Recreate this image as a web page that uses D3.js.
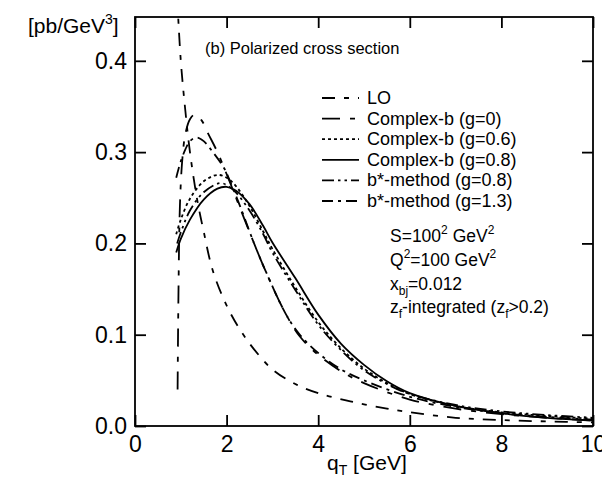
<!DOCTYPE html>
<html>
<head>
<meta charset="utf-8">
<script src="https://cdn.jsdelivr.net/npm/d3@7"></script>
<style>
  body { margin: 0; background: #fff; }
  svg text { font-family: "Liberation Sans", Arial, Helvetica, sans-serif; fill: #000; }
</style>
</head>
<body>
<div id="chart"></div>
<script>
// values, [qT, dsigma]
const lo       = [[0.92,0.47],[1.0,0.40],[1.1,0.345],[1.2,0.30],[1.35,0.25],[1.5,0.213],[1.7,0.170],[2.0,0.132],[2.3,0.105],[2.6,0.084],[3.0,0.062],[3.5,0.046],[4.0,0.036],[4.7,0.027],[5.5,0.019],[6.0,0.015],[7.0,0.009],[8.0,0.0065],[9.0,0.005],[10.0,0.004]];
const cbG0     = [[0.93,0.04],[0.95,0.15],[0.98,0.24],[1.03,0.29],[1.1,0.32],[1.2,0.336],[1.3,0.341],[1.45,0.335],[1.6,0.32],[1.8,0.30],[2.0,0.276],[2.3,0.238],[2.6,0.20],[2.9,0.164],[3.3,0.122],[3.6,0.098],[4.0,0.078],[4.5,0.060],[5.0,0.047],[6.0,0.029],[7.0,0.019],[8.0,0.013],[9.0,0.009],[10.0,0.006]];
const cbG06    = [[0.9,0.21],[1.0,0.226],[1.2,0.249],[1.5,0.268],[1.8,0.275],[2.0,0.272],[2.2,0.263],[2.5,0.241],[2.8,0.213],[3.0,0.194],[3.5,0.152],[4.0,0.114],[4.5,0.085],[5.0,0.063],[5.5,0.047],[6.0,0.035],[7.0,0.022],[8.0,0.015],[9.0,0.011],[10.0,0.008]];
const cbG08    = [[0.9,0.19],[1.0,0.205],[1.2,0.226],[1.5,0.248],[1.8,0.260],[2.0,0.262],[2.2,0.258],[2.5,0.243],[2.8,0.219],[3.0,0.201],[3.5,0.162],[4.0,0.122],[4.5,0.090],[5.0,0.067],[5.5,0.049],[6.0,0.036],[7.0,0.022],[8.0,0.014],[9.0,0.009],[10.0,0.006]];
const bsG08    = [[0.92,0.20],[1.0,0.212],[1.2,0.236],[1.5,0.256],[1.85,0.266],[2.0,0.264],[2.2,0.256],[2.5,0.236],[2.8,0.210],[3.0,0.190],[3.5,0.149],[4.0,0.111],[4.5,0.083],[5.0,0.061],[5.5,0.046],[6.0,0.035],[7.0,0.023],[8.0,0.016],[9.0,0.012],[10.0,0.009]];
const bsG13    = [[0.9,0.272],[1.0,0.29],[1.1,0.303],[1.2,0.312],[1.35,0.316],[1.5,0.312],[1.7,0.30],[1.95,0.282],[2.1,0.265],[2.3,0.240],[2.6,0.20],[2.85,0.17],[3.3,0.122],[3.6,0.100],[4.0,0.080],[4.5,0.062],[5.0,0.050],[6.0,0.032],[7.0,0.021],[8.0,0.014],[9.0,0.010],[10.0,0.007]];

const seriesNames = ['LO','Complex-b (g=0)','Complex-b (g=0.6)','Complex-b (g=0.8)','b*-method (g=0.8)','b*-method (g=1.3)'];
const xTicks = [0,2,4,6,8,10];
const yTicks = [0.0,0.1,0.2,0.3,0.4];

const width = 602, height = 477;
const plotL = 135, plotR = 593, plotT = 17, plotB = 426;

const svg = d3.select('#chart').append('svg')
  .attr('width', width)
  .attr('height', height);

const x = d3.scaleLinear().domain([0,10]).range([plotL,plotR]);
const y = d3.scaleLinear().domain([0,0.448]).range([plotB,plotT]);

svg.append('clipPath').attr('id','plot')
  .append('rect').attr('x',plotL).attr('y',plotT).attr('width',plotR-plotL).attr('height',plotB-plotT);

// dash patterns per curve (same order as names)
const dashes = ['13,9,5,9','18,10,5,10','3,3',null,'12,4,2.5,4,2.5,4','11,5,3,5'];
const curves = [lo,cbG0,cbG06,cbG08,bsG08,bsG13];

const line = d3.line()
  .x(d => x(d[0]))
  .y(d => y(d[1]))
  .curve(d3.curveCatmullRom.alpha(0.5));

svg.append('g').attr('clip-path','url(#plot)')
  .selectAll('path')
  .data(curves)
  .enter().append('path')
  .attr('d', line)
  .attr('fill','none')
  .attr('stroke','#000')
  .attr('stroke-width',1.8)
  .attr('stroke-dasharray',(d,i) => dashes[i]);

// frame + ticks (inside, mirrored)
svg.append('rect')
  .attr('x',plotL).attr('y',plotT).attr('width',plotR-plotL).attr('height',plotB-plotT)
  .attr('fill','none').attr('stroke','#000').attr('stroke-width',1.8);

const tl = 11;
svg.append('g').attr('transform',`translate(0,${plotB})`)
  .call(d3.axisBottom(x).tickValues(xTicks).tickSizeInner(-tl).tickSizeOuter(0).tickPadding(10).tickFormat(d3.format('d')))
  .call(g => g.select('.domain').remove())
  .call(g => g.selectAll('text').attr('font-size',23).attr('dy','0.71em'));
svg.append('g').attr('transform',`translate(0,${plotT})`)
  .call(d3.axisTop(x).tickValues(xTicks).tickSizeInner(-tl).tickSizeOuter(0).tickFormat(''))
  .call(g => g.select('.domain').remove());
svg.append('g').attr('transform',`translate(${plotL},0)`)
  .call(d3.axisLeft(y).tickValues(yTicks).tickSizeInner(-tl).tickSizeOuter(0).tickPadding(8).tickFormat(d3.format('.1f')))
  .call(g => g.select('.domain').remove())
  .call(g => g.selectAll('text').attr('font-size',23));
svg.append('g').attr('transform',`translate(${plotR},0)`)
  .call(d3.axisRight(y).tickValues(yTicks).tickSizeInner(-tl).tickSizeOuter(0).tickFormat(''))
  .call(g => g.select('.domain').remove());
svg.selectAll('.tick line').attr('stroke','#000').attr('stroke-width',1.8);

// axis titles
const yl = svg.append('text').attr('x',28).attr('y',33).attr('font-size',21);
yl.append('tspan').text('[pb/GeV');
yl.append('tspan').attr('font-size',14).attr('dy',-9).text('3');
yl.append('tspan').attr('dy',9).text(']');

const xl = svg.append('text').attr('x',327).attr('y',470).attr('font-size',21);
xl.append('tspan').text('q');
xl.append('tspan').attr('font-size',14).attr('dy',5).text('T');
xl.append('tspan').attr('dy',-5).text(' [GeV]');

svg.append('text').attr('x',205).attr('y',54).attr('font-size',16.5).text('(b) Polarized cross section');

// legend
const leg = svg.append('g').selectAll('g')
  .data(seriesNames)
  .enter().append('g')
  .attr('transform',(d,i) => `translate(0,${104 + i*20.6})`);
leg.append('line')
  .attr('x1',322).attr('x2',359).attr('y1',-6).attr('y2',-6)
  .attr('stroke','#000').attr('stroke-width',1.8)
  .attr('stroke-dasharray',(d,i) => dashes[i]);
leg.append('text').attr('x',367).attr('font-size',18).text(d => d);

// kinematics
const ann = svg.append('g').attr('font-size',17.5);
const a1 = ann.append('text').attr('x',390).attr('y',242);
a1.append('tspan').text('S=100');
a1.append('tspan').attr('font-size',12).attr('dy',-8).text('2');
a1.append('tspan').attr('dy',8).text(' GeV');
a1.append('tspan').attr('font-size',12).attr('dy',-8).text('2');
const a2 = ann.append('text').attr('x',390).attr('y',266);
a2.append('tspan').text('Q');
a2.append('tspan').attr('font-size',12).attr('dy',-8).text('2');
a2.append('tspan').attr('dy',8).text('=100 GeV');
a2.append('tspan').attr('font-size',12).attr('dy',-8).text('2');
const a3 = ann.append('text').attr('x',390).attr('y',290);
a3.append('tspan').text('x');
a3.append('tspan').attr('font-size',12).attr('dy',5).text('bj');
a3.append('tspan').attr('dy',-5).text('=0.012');
const a4 = ann.append('text').attr('x',390).attr('y',313);
a4.append('tspan').text('z');
a4.append('tspan').attr('font-size',12).attr('dy',5).text('f');
a4.append('tspan').attr('dy',-5).text('-integrated (z');
a4.append('tspan').attr('font-size',12).attr('dy',5).text('f');
a4.append('tspan').attr('dy',-5).text('>0.2)');
</script>
</body>
</html>
